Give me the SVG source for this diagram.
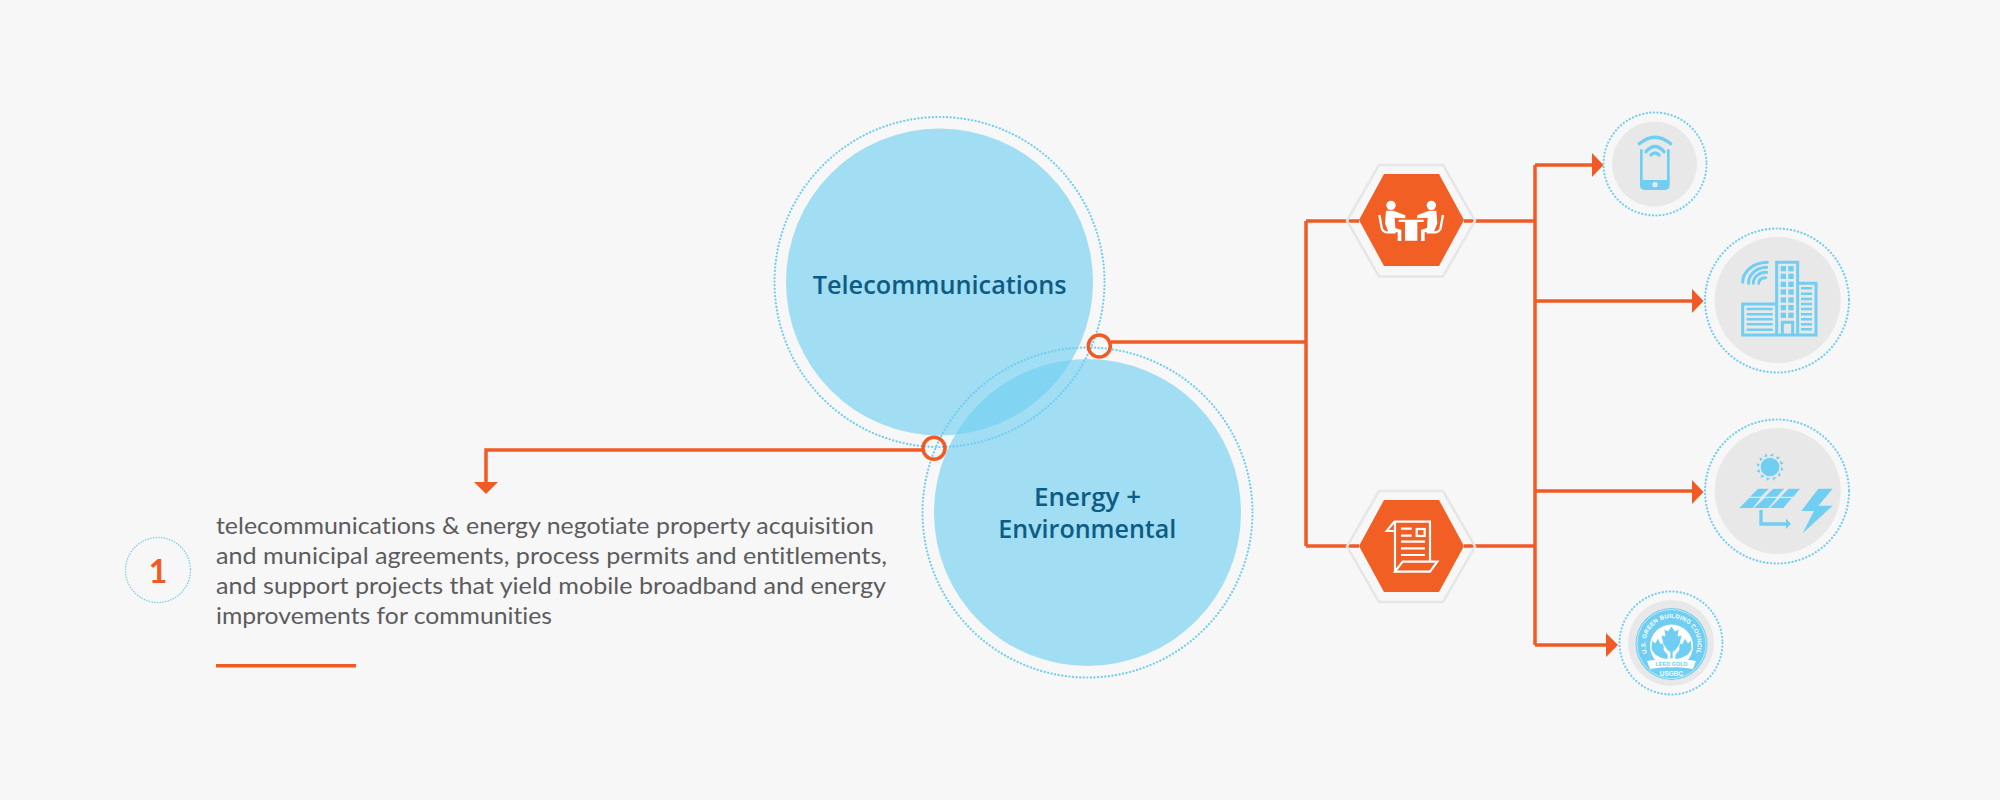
<svg xmlns="http://www.w3.org/2000/svg" xmlns:xlink="http://www.w3.org/1999/xlink" width="2000" height="800" viewBox="0 0 2000 800">
<style>
text{font-variant-ligatures:none}
.blob{fill:#6fcef1;fill-opacity:.63}
.dot{fill:none;stroke:#6fcef1;stroke-width:2.2;stroke-linecap:round;stroke-dasharray:.1 3.5}
.wire{fill:none;stroke:#f15a24;stroke-width:3.5}
.ring{fill:none;stroke:#f15a24;stroke-width:3.5}
.grey{fill:#e8e8e8}
.hexo{fill:none;stroke:#e6e6e6;stroke-width:2.5}
.hexi{fill:#f15f25}
.head{fill:#f15a24}
.lbl{font-family:"Open Sans","Liberation Sans",sans-serif;font-size:26px;font-weight:600;fill:#0d5c84}
.body{font-family:Lato,"Liberation Sans",sans-serif;font-size:24px;fill:#5c5c5e}
.icf{fill:#6fcef1}
.whf{fill:#fff}
.bt{font-family:"Liberation Sans",sans-serif;font-weight:700;fill:#fff}
</style>
<rect width="2000" height="800" fill="#f7f7f7"/>

<g id="node-telecom">
<circle class="blob" cx="939.5" cy="282" r="153.5"/>
<circle class="dot" cx="939.5" cy="282" r="165"/>
<text class="lbl" x="812.7" y="294.4" textLength="254" lengthAdjust="spacingAndGlyphs">Telecommunications</text>
</g>
<g id="node-energy">
<circle class="blob" cx="1087.5" cy="512.5" r="153.5"/>
<circle class="dot" cx="1087.5" cy="512.5" r="165"/>
<text class="lbl" x="1034" y="505.7" textLength="107" lengthAdjust="spacingAndGlyphs">Energy +</text>
<text class="lbl" x="998.3" y="538" textLength="178" lengthAdjust="spacingAndGlyphs">Environmental</text>
</g>

<g id="connectors">
<path class="wire" d="M1111 342H1306M1306 221V546M1359 221H1306M1359 546H1306"/>
<path class="wire" d="M1464 221H1535M1464 546H1535M1535 165V645"/>
<path class="wire" d="M1535 165H1594M1535 301H1694M1535 491H1694M1535 645H1608"/>
<path class="wire" d="M923 450H486V484"/>
<path class="head" d="M1592 153L1603.500 165L1592 177Z"/>
<path class="head" d="M1692 289L1703.500 301L1692 313Z"/>
<path class="head" d="M1692 480L1703.500 492L1692 504Z"/>
<path class="head" d="M1606 633L1618 645L1606 657Z"/>
<path class="head" d="M474 482L498 482L486 494Z"/>
<circle class="ring" cx="1099.300" cy="346" r="11"/>
<circle class="ring" cx="934" cy="448.300" r="11"/>
</g>

<g id="node-meeting">
<path class="hexo" d="M1379 165H1443L1475 220.700L1443 276.500H1379L1347 220.700Z"/>
<path class="hexi" d="M1384 174H1439L1464 220L1439 266H1384L1359 220Z"/>
<g transform="translate(1330 150) scale(.3333)">
<circle class="whf" cx="183" cy="166" r="14"/><circle class="whf" cx="304" cy="166" r="14"/>
<path class="whf" d="M206 209H281V216H262V272H225V216H206Z"/>
<path class="whf" d="M168 182H190L226 196V205L194 203L196 234L214 240V273H203V247L175 245L165 220Z"/>
<path d="M148 195L155 233Q157 245 170 247H197" fill="none" stroke="#fff" stroke-width="7"/>
<g transform="translate(487 0) scale(-1 1)">
<path class="whf" d="M168 182H190L226 196V205L194 203L196 234L214 240V273H203V247L175 245L165 220Z"/>
<path d="M148 195L155 233Q157 245 170 247H197" fill="none" stroke="#fff" stroke-width="7"/>
</g>
</g>
</g>

<g id="node-document">
<path class="hexo" d="M1379 491H1443L1475 546.500L1443 602H1379L1347 546.500Z"/>
<path class="hexi" d="M1384 500H1439L1464 546L1439 592H1384L1359 546Z"/>
<g transform="translate(1330 470) scale(.3333)" fill="none" stroke="#fff" stroke-width="6.500">
<path d="M195 305V155H300V275M193 155L170 183H195M218 275H322L300 305H195Z"/>
<path d="M213 176H245M213 197H245M213 215H285M213 235H285M213 255H285"/>
<rect x="260" y="177" width="24" height="21"/>
</g>
</g>

<g id="node-phone">
<circle class="grey" cx="1654.500" cy="164" r="42.500"/>
<circle class="dot" cx="1655" cy="164" r="51.500"/>
<g transform="translate(1590 100) scale(.3333)">
<path class="icf" d="M150 148H158V240H231V148H239V256Q239 270 225 270H164Q150 270 150 256Z"/>
<circle cx="195" cy="254" r="8" fill="#e8e8e8"/>
<path d="M148 131Q195 92 242 131M168 155Q195 124 222 155M183 165Q195 152 207 165" fill="none" stroke="#6fcef1" stroke-width="10" stroke-linecap="round"/>
</g>
</g>

<g id="node-building">
<circle class="grey" cx="1777.700" cy="300" r="63"/>
<circle class="dot" cx="1777" cy="300.500" r="72"/>
<g transform="translate(1690 220) scale(.3333)">
<g fill="none" stroke="#6fcef1" stroke-width="9">
<path d="M260 345V127H323V345M323 190H378V345H158V252H260"/>
<path d="M277 345V307H308V345"/>
<path stroke-width="7.500" d="M333 205H366M333 221H366M333 237H366M333 252H366M333 267H366M333 283H366M333 298H366M333 313H366M333 328H366"/>
<path stroke-width="7.500" d="M170 267H248M170 283H248M170 298H248M170 313H248M170 329H248"/>
<path stroke-linecap="round" d="M158 187A75 60 0 0 1 232 127M176 190A56 45 0 0 1 230 142M190 190A38 32 0 0 1 230 157M206 190A20 16 0 0 1 227 173"/>
</g>
<g class="icf">
<rect x="272" y="138" width="16" height="16"/><rect x="295" y="138" width="16" height="16"/>
<rect x="272" y="161" width="16" height="16"/><rect x="295" y="161" width="16" height="16"/>
<rect x="272" y="185" width="16" height="16"/><rect x="295" y="185" width="16" height="16"/>
<rect x="272" y="208" width="16" height="16"/><rect x="295" y="208" width="16" height="16"/>
<rect x="272" y="232" width="16" height="16"/><rect x="295" y="232" width="16" height="16"/>
<rect x="272" y="255" width="16" height="16"/><rect x="295" y="255" width="16" height="16"/>
<rect x="272" y="278" width="16" height="16"/><rect x="295" y="278" width="16" height="16"/>
</g>
</g>
</g>

<g id="node-solar">
<circle class="grey" cx="1777.700" cy="491" r="63"/>
<circle class="dot" cx="1777" cy="491.500" r="72"/>
<g transform="translate(1690 410) scale(.3333)" class="icf">
<circle cx="240" cy="171" r="28"/>
<g>
<path d="M233 139L228 130L222 142Z"/>
<path d="M233 139L228 130L222 142Z" transform="rotate(30 240 171)"/>
<path d="M233 139L228 130L222 142Z" transform="rotate(60 240 171)"/>
<path d="M233 139L228 130L222 142Z" transform="rotate(90 240 171)"/>
<path d="M233 139L228 130L222 142Z" transform="rotate(120 240 171)"/>
<path d="M233 139L228 130L222 142Z" transform="rotate(150 240 171)"/>
<path d="M233 139L228 130L222 142Z" transform="rotate(180 240 171)"/>
<path d="M233 139L228 130L222 142Z" transform="rotate(210 240 171)"/>
<path d="M233 139L228 130L222 142Z" transform="rotate(240 240 171)"/>
<path d="M233 139L228 130L222 142Z" transform="rotate(270 240 171)"/>
<path d="M233 139L228 130L222 142Z" transform="rotate(300 240 171)"/>
<path d="M233 139L228 130L222 142Z" transform="rotate(330 240 171)"/>
</g>
<path d="M205 236H237L212 260H180ZM250 236H283L260 260H225ZM296 236H330L310 260H272ZM178 264H212L188 294H148ZM224 264H260L235 294H192ZM270 264H305L280 294H240Z"/>
<path d="M208 300H218V337H288V326L303 341L288 357V347H208Z"/>
<path d="M385 236H428L385 287H428L338 370L372 303H334Z"/>
</g>
</g>

<g id="node-leed">
<circle class="grey" cx="1671" cy="643" r="43"/>
<circle class="dot" cx="1671" cy="643" r="51.500"/>
<circle cx="1671.500" cy="644" r="36" fill="#6fcef1"/>
<circle cx="1671.500" cy="644" r="34.500" fill="none" stroke="#d4f0fa" stroke-width=".8"/>
<circle cx="1671.500" cy="646" r="21.500" fill="#fff"/>
<g fill="#6fcef1" stroke="#fff" stroke-width=".7">
<path d="M1652 640L1655 643L1658 638L1661 644L1664 642L1664 650L1668 655L1668 660L1661 658L1655 655L1651 649Z"/>
<path d="M1691 640L1688 643L1685 638L1682 644L1679 642L1679 650L1675 655L1675 660L1682 658L1688 655L1692 649Z"/>
<path d="M1671.500 626L1675 631L1679 629L1678 636L1682 635L1680 644L1676 650L1673 652V661H1670V652L1667 650L1663 644L1661 635L1665 636L1664 629L1668 631Z"/>
</g>
<path d="M1647 661Q1671.500 656 1696 661L1693 669Q1671.500 665 1650 669Z" fill="#fff"/>
<text class="bt" x="1671.500" y="666" font-size="5.500" text-anchor="middle" style="fill:#6fcef1">LEED GOLD</text>
<text class="bt" x="1671.500" y="675.500" font-size="6.500" text-anchor="middle">USGBC</text>
<text class="bt" x="1698" y="672" font-size="3.500">®</text>
<path id="arc" d="M1649 657A26 26 0 1 1 1694 657" fill="none"/>
<text class="bt" font-size="6" letter-spacing=".2"><textPath href="#arc" xlink:href="#arc" startOffset="50%" text-anchor="middle">U.S. GREEN BUILDING COUNCIL</textPath></text>
</g>

<g id="note">
<circle class="dot" cx="158" cy="570" r="32.500" style="stroke-width:1.500;stroke-dasharray:.1 2.6"/>
<text x="158" y="583" text-anchor="middle" style="font-family:Lato,'Liberation Sans',sans-serif;font-size:32px;font-weight:700;fill:#f15a24">1</text>
<text class="body" x="216" y="534" textLength="658" lengthAdjust="spacingAndGlyphs">telecommunications &amp; energy negotiate property acquisition</text>
<text class="body" x="216" y="564" textLength="671" lengthAdjust="spacingAndGlyphs">and municipal agreements, process permits and entitlements,</text>
<text class="body" x="216" y="594" textLength="670" lengthAdjust="spacingAndGlyphs">and support projects that yield mobile broadband and energy</text>
<text class="body" x="216" y="624" textLength="336" lengthAdjust="spacingAndGlyphs">improvements for communities</text>
<rect x="216" y="664" width="140" height="3.500" fill="#f15a24"/>
</g>
</svg>
